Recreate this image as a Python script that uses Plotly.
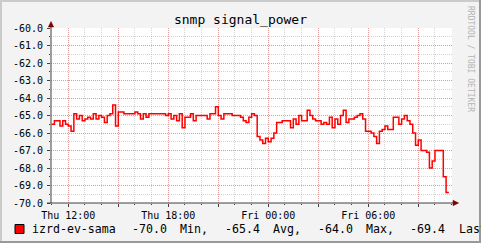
import datetime as dt
import plotly.graph_objects as go

# ---------------- data ----------------
title_text = "snmp signal_power"
series_name = "izrd-ev-sama"
start_time = dt.datetime(2024, 1, 4, 11, 0)   # Thursday 11:00
step_minutes = 10
values = [
    -65.5, -65.3, -65.3, -65.6, -65.3, -65.5,   # Thu 11h
    -65.6, -65.9, -64.9, -65.2, -65.0, -65.3,   # 12h
    -65.2, -65.1, -65.2, -64.9, -65.2, -65.0,   # 13h
    -65.1, -65.4, -65.0, -64.9, -64.4, -65.6,   # 14h
    -64.8, -64.8, -64.9, -64.9, -64.9, -64.9,   # 15h
    -64.8, -64.9, -65.2, -64.9, -65.1, -64.9,   # 16h
    -64.9, -64.9, -64.9, -64.9, -64.9, -65.0,   # 17h
    -64.9, -65.2, -65.0, -65.3, -64.9, -65.7,   # 18h
    -65.1, -65.1, -64.9, -65.3, -65.0, -65.0,   # 19h
    -65.0, -65.0, -65.2, -64.9, -64.9, -64.5,   # 20h
    -65.0, -65.2, -64.9, -64.9, -64.9, -65.0,   # 21h
    -65.0, -65.0, -65.1, -65.3, -65.4, -65.1,   # 22h
    -64.9, -65.0, -66.2, -66.4, -66.6, -66.3,   # 23h
    -66.5, -66.3, -66.0, -65.4, -65.4, -65.3,   # Fri 00h
    -65.3, -65.3, -65.7, -65.2, -65.5, -65.0,   # 01h
    -65.3, -65.3, -64.7, -65.0, -65.2, -65.3,   # 02h
    -65.3, -65.5, -65.4, -65.5, -65.1, -65.7,   # 03h
    -65.2, -65.5, -65.0, -64.7, -65.4, -65.2,   # 04h
    -65.2, -65.1, -65.0, -64.9, -65.2, -65.9,   # 05h
    -65.9, -66.0, -66.2, -66.6, -65.9, -65.8,   # 06h
    -65.6, -65.8, -65.8, -65.1, -65.1, -65.5,   # 07h
    -65.2, -65.0, -65.3, -65.5, -66.0, -66.7,   # 08h
    -66.4, -67.0, -67.0, -67.1, -68.0, -67.6,   # 09h
    -67.0, -67.0, -67.0, -68.5, -69.4,          # 10h
]
legend_stats = ["-70.0", "Min,", "-65.4", "Avg,", "-64.0", "Max,", "-69.4", "Last"]
y_ticks = [-60.0, -61.0, -62.0, -63.0, -64.0, -65.0, -66.0, -67.0, -68.0, -69.0, -70.0]
x_label_times = [dt.datetime(2024, 1, 4, 12), dt.datetime(2024, 1, 4, 18),
                 dt.datetime(2024, 1, 5, 0), dt.datetime(2024, 1, 5, 6)]
x_label_text = ["Thu 12:00", "Thu 18:00", "Fri 00:00", "Fri 06:00"]

# ---------------- geometry ----------------
W_IMG, H_IMG = 481, 243
L, R, T, B = 51, 452, 28, 203
PW, PH = R - L, B - T
FONT = "DejaVu Sans Mono"

def px(X):
    return (X - L) / PW

def py(Y):
    return (B - Y) / PH

times = [start_time + dt.timedelta(minutes=step_minutes * i) for i in range(len(values))]
# extend last step to its end
times_plot = times + [times[-1] + dt.timedelta(minutes=step_minutes)]
vals_plot = values + [values[-1]]

# x range: 12:00 at pixel 68.3, 16.667 px per hour
px_per_hour = 100 / 6
t12 = x_label_times[0]
x0 = t12 - dt.timedelta(hours=(68.3 - L) / px_per_hour)
x1 = x0 + dt.timedelta(hours=PW / px_per_hour)

major_x = []
t = dt.datetime(2024, 1, 4, 12)
while t < x1:
    major_x.append(t)
    t += dt.timedelta(hours=3)
major_text = [x_label_text[x_label_times.index(m)] if m in x_label_times else "" for m in major_x]

fig = go.Figure()
fig.add_trace(go.Scatter(
    x=times_plot, y=vals_plot, mode="lines",
    line=dict(color="#FF0000", width=1.5, shape="hv"),
    hoverinfo="skip", showlegend=False, cliponaxis=True,
))

MGRID = "rgba(230,110,110,0.55)"
GRID = "rgba(175,175,175,0.55)"
AX = "#404040"

fig.update_xaxes(
    range=[x0, x1], tickmode="array", tickvals=major_x, ticktext=major_text,
    showgrid=True, gridcolor=MGRID, griddash="1px,1px", gridwidth=1,
    ticks="outside", ticklen=3, tickcolor=AX, showline=False, zeroline=False,
    tickfont=dict(family=FONT, size=10, color="#000000"),
    minor=dict(dtick=3600000, tick0="2024-01-04 00:00", showgrid=True,
               gridcolor=GRID, griddash="1px,1px", gridwidth=1,
               ticks="outside", ticklen=1, tickcolor=AX),
    fixedrange=True,
)
fig.update_yaxes(
    range=[-70, -60], tickmode="array", tickvals=y_ticks,
    ticktext=["%.1f" % v for v in y_ticks],
    showgrid=True, gridcolor=MGRID, griddash="1px,1px", gridwidth=1,
    ticks="outside", ticklen=3, tickcolor=AX, showline=False, zeroline=False,
    tickfont=dict(family=FONT, size=10, color="#000000"),
    minor=dict(dtick=0.5, tick0=-70, showgrid=True, gridcolor=GRID,
               griddash="1px,1px", gridwidth=1, ticks="outside", ticklen=1, tickcolor=AX),
    ticklabelstandoff=2,
    fixedrange=True,
)

shapes = []
# image border shading
shapes.append(dict(type="rect", xref="paper", yref="paper", x0=px(0), x1=px(W_IMG), y0=py(0), y1=py(2),
                   line=dict(width=0), fillcolor="#CBCBCB", layer="below"))
shapes.append(dict(type="rect", xref="paper", yref="paper", x0=px(0), x1=px(2), y0=py(0), y1=py(H_IMG),
                   line=dict(width=0), fillcolor="#CBCBCB", layer="below"))
shapes.append(dict(type="rect", xref="paper", yref="paper", x0=px(W_IMG - 2), x1=px(W_IMG), y0=py(0), y1=py(H_IMG),
                   line=dict(width=0), fillcolor="#999999", layer="below"))
shapes.append(dict(type="rect", xref="paper", yref="paper", x0=px(0), x1=px(W_IMG), y0=py(H_IMG - 2), y1=py(H_IMG),
                   line=dict(width=0), fillcolor="#999999", layer="below"))
# axes
shapes.append(dict(type="line", xref="paper", yref="paper", x0=px(51), x1=px(51), y0=py(203.5), y1=py(25),
                   line=dict(color=AX, width=1)))
shapes.append(dict(type="line", xref="paper", yref="paper", x0=px(47), x1=px(455), y0=py(203), y1=py(203),
                   line=dict(color=AX, width=1)))
# arrows
shapes.append(dict(type="path", xref="paper", yref="paper",
                   path="M %f,%f L %f,%f L %f,%f Z" % (px(48.3), py(27), px(51), py(21.5), px(53.7), py(27)),
                   fillcolor="#7F0000", line=dict(color="#7F0000", width=0.5)))
shapes.append(dict(type="path", xref="paper", yref="paper",
                   path="M %f,%f L %f,%f L %f,%f Z" % (px(453), py(200.3), px(458.7), py(203), px(453), py(205.7)),
                   fillcolor="#7F0000", line=dict(color="#7F0000", width=0.5)))
# legend colour box
shapes.append(dict(type="rect", xref="paper", yref="paper", x0=px(15), x1=px(24), y0=py(224.5), y1=py(233.5),
                   fillcolor="#FF0000", line=dict(color="#000000", width=1)))

annotations = []
leg_y = 229
leg_items = [series_name] + legend_stats
leg_x = [31, 131, 179, 224, 272, 317, 365, 409, 458]
for txt, xx in zip(leg_items, leg_x):
    annotations.append(dict(text=txt, xref="paper", yref="paper", x=px(xx - 1), y=py(leg_y),
                            xanchor="left", yanchor="middle", showarrow=False,
                            font=dict(family=FONT, size=11.6, color="#000000")))
annotations.append(dict(text="RRDTOOL / TOBI OETIKER", xref="paper", yref="paper",
                        x=px(471), y=py(59), xanchor="center", yanchor="middle", textangle=90,
                        showarrow=False, font=dict(family=FONT, size=8, color="#B4B4B4")))

fig.update_layout(
    width=W_IMG, height=H_IMG,
    margin=dict(l=L, r=W_IMG - R, t=T, b=H_IMG - B, pad=0),
    paper_bgcolor="#F3F3F3", plot_bgcolor="#FFFFFF",
    title=dict(text=title_text, x=0.5, xref="paper", xanchor="center",
               y=1 - 19 / H_IMG, yref="container", yanchor="middle",
               font=dict(family=FONT, size=13, color="#000000")),
    shapes=shapes, annotations=annotations,
    showlegend=False, hovermode=False,
)
fig.update_layout(title_x=(240.5 - L) / PW)

fig.write_html("out.html", config={"displayModeBar": False, "staticPlot": True})
